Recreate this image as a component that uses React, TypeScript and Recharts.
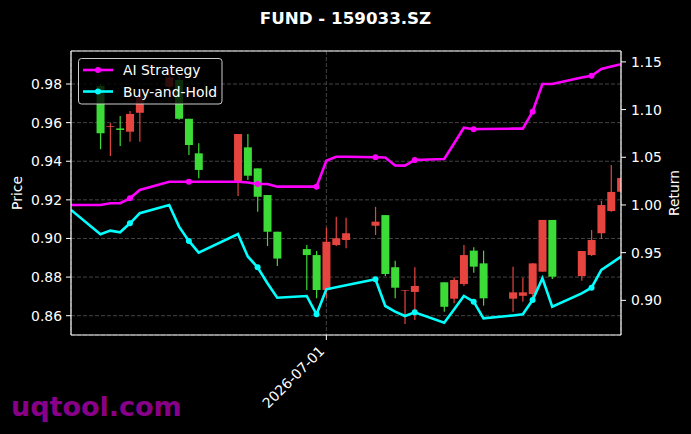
import React from 'react';
import { ComposedChart, Bar, Line, XAxis, YAxis, CartesianGrid, ReferenceLine } from 'recharts';

const dates = [
  '2026-06-05', '2026-06-08', '2026-06-09', '2026-06-10', '2026-06-11', '2026-06-12',
  '2026-06-15', '2026-06-16', '2026-06-17', '2026-06-18', '2026-06-22', '2026-06-23',
  '2026-06-24', '2026-06-25', '2026-06-26', '2026-06-29', '2026-06-30', '2026-07-01',
  '2026-07-02', '2026-07-03', '2026-07-06', '2026-07-07', '2026-07-08', '2026-07-09',
  '2026-07-10', '2026-07-13', '2026-07-14', '2026-07-15', '2026-07-16', '2026-07-17',
  '2026-07-20', '2026-07-21', '2026-07-22', '2026-07-23', '2026-07-24', '2026-07-27',
  '2026-07-28', '2026-07-29', '2026-07-30', '2026-07-31',
];

const opens = [
  null, 0.979, 0.9578, 0.957, 0.9553, 0.9651, 0.9786, 0.9821, 0.962, 0.9441, 0.9289, 0.9472,
  0.9363, 0.9225, 0.9035, 0.8945, 0.8914, 0.8733, 0.8966, 0.8992, 0.9066, 0.9121, 0.8851, 0.8728,
  0.8723, 0.8773, 0.8688, 0.8764, 0.8937, 0.8871, 0.8688, 0.8703, 0.8712, 0.8828, 0.9096, 0.8805,
  0.8914, 0.9027, 0.9142, 0.9242,
];
const highs = [
  null, 0.98, 0.9597, 0.9634, 0.966, 0.976, 0.9855, 0.984, 0.962, 0.9493, 0.9541, 0.9541,
  0.9363, 0.9225, 0.9035, 0.8966, 0.8935, 0.9056, 0.9113, 0.9107, 0.9164, 0.9121, 0.8885, 0.8733,
  0.8851, 0.8773, 0.8799, 0.8966, 0.8954, 0.8937, 0.8854, 0.8797, 0.8871, 0.9096, 0.9096, 0.8935,
  0.9044, 0.9194, 0.938, 0.9313,
];
const lows = [
  null, 0.9462, 0.9427, 0.9479, 0.9501, 0.9501, 0.9775, 0.9615, 0.9432, 0.9312, 0.922, 0.9303,
  0.9139, 0.8961, 0.8857, 0.8733, 0.869, 0.869, 0.8961, 0.8949, 0.9018, 0.8805, 0.869, 0.8557,
  0.8578, 0.8621, 0.8664, 0.8754, 0.8823, 0.8652, 0.8621, 0.8672, 0.869, 0.8828, 0.879, 0.8781,
  0.8909, 0.8997, 0.9139, 0.9242,
];
const closes = [
  null, 0.9545, 0.9582, 0.9562, 0.9645, 0.9735, 0.9835, 0.962, 0.9484, 0.9355, 0.9541, 0.9325,
  0.9216, 0.9035, 0.8896, 0.8914, 0.8733, 0.8983, 0.9001, 0.9027, 0.9087, 0.8816, 0.8745, 0.8731,
  0.8754, 0.8646, 0.8785, 0.8914, 0.8854, 0.869, 0.8721, 0.8721, 0.8871, 0.9096, 0.8802, 0.8935,
  0.8992, 0.9173, 0.9241, 0.9313,
];

const aiStrategy = [
  1.0, 1.0, 1.0018, 1.0018, 1.007, 1.0157, 1.0244, 1.0244, 1.0244, 1.0244, 1.0244, 1.0236,
  1.022, 1.022, 1.0192, 1.0192, 1.0192, 1.0464, 1.0506, 1.0506, 1.05, 1.0498, 1.0414, 1.0412,
  1.0472, 1.0482, 1.0645, 1.081, 1.0794, 1.0797, 1.08, 1.08, 1.0978, 1.1268, 1.1268, 1.1336,
  1.1355, 1.1426, 1.1452, 1.1475,
];
const buyHold = [
  0.9948, 0.9693, 0.9731, 0.9714, 0.9808, 0.9913, 1.0, 0.9773, 0.9623, 0.95, 0.9696, 0.946,
  0.9347, 0.9179, 0.9028, 0.9046, 0.8854, 0.9116, 0.9137, 0.9158, 0.9221, 0.8941, 0.8882, 0.8836,
  0.8875, 0.8766, 0.8905, 0.9046, 0.8986, 0.8812, 0.8842, 0.8854, 0.9004, 0.9232, 0.8934, 0.9074,
  0.9133, 0.9319, 0.9387, 0.9458,
];

const priceTicks = [0.86, 0.88, 0.9, 0.92, 0.94, 0.96, 0.98];
const returnTicks = [0.9, 0.95, 1.0, 1.05, 1.1, 1.15];
const dateTicks = ['2026-07-01'];

const toTs = (s: string) => {
  const [y, m, d] = s.split('-').map(Number);
  return Date.UTC(y, m - 1, d);
};
const fmtDate = (ts: number) => new Date(ts).toISOString().slice(0, 10);

const rows = dates.map((d, i) => ({
  t: toTs(d),
  open: opens[i],
  high: highs[i],
  low: lows[i],
  close: closes[i],
  range: opens[i] == null ? null : [lows[i], highs[i]],
  ai: aiStrategy[i],
  bh: buyHold[i],
}));

const RED = '#e5443f';
const GREEN = '#3ddb37';
const MAGENTA = '#ff00ff';
const CYAN = '#00ffff';
const FONT = 'DejaVu Sans';

const Candle = (props: any) => {
  const { x, y, width, height, payload } = props;
  if (!payload || payload.open == null || x == null || y == null) return <g />;
  const { open, high, low, close } = payload;
  const top = Math.min(y, y + height);
  const h = Math.abs(height);
  const pix = (v: number) => (high === low ? top : top + ((high - v) / (high - low)) * h);
  const color = close >= open ? RED : GREEN;
  const cx = x + width / 2;
  const bTop = pix(Math.max(open, close));
  const bBot = pix(Math.min(open, close));
  return (
    <g>
      <line x1={cx} x2={cx} y1={pix(high)} y2={pix(low)} stroke={color} strokeWidth={1.2} />
      <rect x={cx - 4} width={8} y={bTop} height={Math.max(bBot - bTop, 0.6)} fill={color} />
    </g>
  );
};

const makeDot = (color: string) => (props: any) => {
  const { cx, cy, index } = props;
  if (index === 0 || index % 4 !== 0) return <g key={`d${index}`} />;
  return <circle key={`d${index}`} cx={cx} cy={cy} r={3} fill={color} stroke="none" />;
};

const DateTick = (props: any) => {
  const { x, payload } = props;
  return (
    <text
      transform={`translate(${x - 1},352) rotate(-45)`}
      textAnchor="end"
      fill="#ffffff"
      fontSize={13.9}
      fontFamily={FONT}
    >
      {fmtDate(payload.value)}
    </text>
  );
};

export default function App() {
  const xDomain = [toTs(dates[0]), toTs(dates[dates.length - 1])];
  const tickStyle = { fill: '#ffffff', fontSize: 13.9, fontFamily: FONT };
  return (
    <div style={{ position: 'fixed', left: 0, top: 0, width: 691, height: 434, background: '#000000' }}>
      <ComposedChart
        width={691}
        height={434}
        data={rows}
        margin={{ top: 51, right: 0, bottom: 0, left: 0 }}
      >
        <CartesianGrid
          xAxisId="x"
          yAxisId="left"
          stroke="#555555"
          strokeDasharray="4 2"
          strokeWidth={0.8}
        />
        <XAxis
          xAxisId="x"
          dataKey="t"
          type="number"
          scale="linear"
          domain={xDomain}
          allowDataOverflow
          ticks={dateTicks.map(toTs)}
          tick={<DateTick />}
          tickSize={5}
          height={99}
          axisLine={{ stroke: '#ffffff', strokeWidth: 1.2 }}
          tickLine={{ stroke: '#ffffff' }}
        />
        <YAxis
          yAxisId="left"
          orientation="left"
          type="number"
          domain={[0.85, 0.9971]}
          allowDataOverflow
          ticks={priceTicks}
          tickFormatter={(v: number) => v.toFixed(2)}
          width={71}
          tickSize={5}
          tickMargin={4}
          tick={tickStyle}
          axisLine={{ stroke: '#ffffff', strokeWidth: 1.2 }}
          tickLine={{ stroke: '#ffffff' }}
        />
        <YAxis
          yAxisId="right"
          orientation="right"
          type="number"
          domain={[0.8637, 1.1614]}
          allowDataOverflow
          ticks={returnTicks}
          tickFormatter={(v: number) => v.toFixed(2)}
          width={70}
          tickSize={5}
          tickMargin={5}
          tick={tickStyle}
          axisLine={{ stroke: '#ffffff', strokeWidth: 1.2 }}
          tickLine={{ stroke: '#ffffff' }}
        />
        <Bar
          xAxisId="x"
          yAxisId="left"
          dataKey="range"
          barSize={8}
          shape={<Candle />}
          isAnimationActive={false}
        />
        <Line
          xAxisId="x"
          yAxisId="right"
          type="linear"
          dataKey="bh"
          stroke={CYAN}
          strokeWidth={2.6}
          dot={makeDot(CYAN)}
          activeDot={false}
          isAnimationActive={false}
        />
        <Line
          xAxisId="x"
          yAxisId="right"
          type="linear"
          dataKey="ai"
          stroke={MAGENTA}
          strokeWidth={2.6}
          dot={makeDot(MAGENTA)}
          activeDot={false}
          isAnimationActive={false}
        />
        <ReferenceLine xAxisId="x" yAxisId="left" y={0.9971} stroke="#ffffff" strokeWidth={1.2} />
      </ComposedChart>
      <svg
        width={691}
        height={434}
        style={{ position: 'absolute', left: 0, top: 0, pointerEvents: 'none' }}
        fontFamily={FONT}
      >
        <text x={345.5} y={23.5} textAnchor="middle" fontWeight="bold" fontSize={16.7} fill="#ffffff">
          FUND - 159033.SZ
        </text>
        <text transform="translate(22,193) rotate(-90)" textAnchor="middle" fontSize={13.9} fill="#ffffff">
          Price
        </text>
        <text transform="translate(679,193) rotate(-90)" textAnchor="middle" fontSize={13.9} fill="#ffffff">
          Return
        </text>
        <text x={11} y={415.5} fontWeight="bold" fontSize={27} fill="#880088">
          uqtool.com
        </text>
        <rect x={78.5} y={58.5} width={143.5} height={45.5} rx={3} fill="rgba(0,0,0,0.8)" stroke="#cccccc" strokeWidth={1} />
        <line x1={83} x2={113} y1={70} y2={70} stroke={MAGENTA} strokeWidth={2.6} />
        <circle cx={98} cy={70} r={3} fill={MAGENTA} />
        <text x={123} y={75} fontSize={13.9} fill="#ffffff">AI Strategy</text>
        <line x1={83} x2={113} y1={91.5} y2={91.5} stroke={CYAN} strokeWidth={2.6} />
        <circle cx={98} cy={91.5} r={3} fill={CYAN} />
        <text x={123} y={96.5} fontSize={13.9} fill="#ffffff">Buy-and-Hold</text>
      </svg>
    </div>
  );
}
